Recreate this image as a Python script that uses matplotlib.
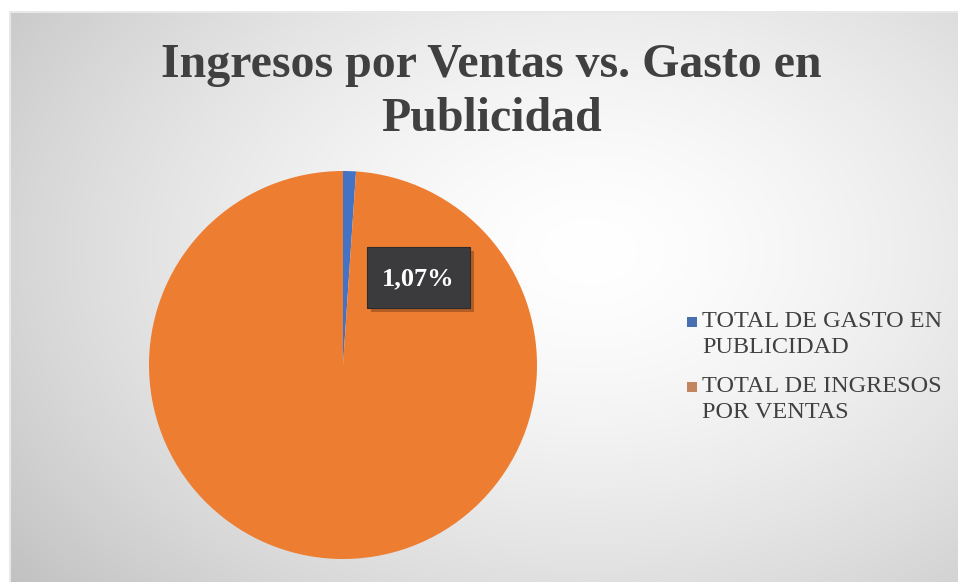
import numpy as np
import matplotlib
matplotlib.use("Agg")
import matplotlib.pyplot as plt
from matplotlib.patches import Patch, Rectangle
from matplotlib.legend_handler import HandlerPatch

labels = ["TOTAL DE GASTO EN\nPUBLICIDAD", "TOTAL DE INGRESOS\nPOR VENTAS"]
values = [1.07, 98.93]
colors = ["#4472C4", "#ED7D31"]
legend_colors = ["#4A6FB0", "#C28560"]
title = "Ingresos por Ventas vs. Gasto en\nPublicidad"
label_text = "1,07%"

W, H = 958, 582
fig = plt.figure(figsize=(W / 100, H / 100), dpi=100)
fig.patch.set_facecolor("white")

# background radial gradient
bg = fig.add_axes([9 / W, 0, 1 - 9 / W, 1 - 11 / H])
bg.set_axis_off()
ny, nx = 571, 949
yy, xx = np.mgrid[0:ny, 0:nx]
cx, cy = 580, 240
r = np.sqrt(((xx - cx) / 660.0) ** 2 + ((yy - cy) / 460.0) ** 2)
v = 1.0 - 0.20 * np.clip(r, 0, 1.2) ** 1.5
img = np.dstack([v, v, v])
bg.imshow(img, aspect="auto", extent=[0, 1, 0, 1], interpolation="bilinear")
bg.set_xlim(0, 1)
bg.set_ylim(0, 1)
bg.plot([0, 1], [0.998, 0.998], color="#e8e8e8", lw=1.5)
bg.plot([0.001, 0.001], [0, 1], color="#e8e8e8", lw=1.5)

# pie
cxp, cyp, rad = 343, 365, 194
ax = fig.add_axes([(cxp - rad) / W, (H - cyp - rad) / H, 2 * rad / W, 2 * rad / H])
ax.set_axis_off()
wedges, _ = ax.pie(values, colors=colors, startangle=90, counterclock=False,
                   wedgeprops=dict(linewidth=0))
ax.set_xlim(-1, 1)
ax.set_ylim(-1, 1)
ax.set_aspect("equal")

# data label box with shadow
bx0, by0, bw, bh = 367, 247, 103, 61
fig.add_artist(Rectangle(((bx0 + 4) / W, 1 - (by0 + bh + 4) / H), bw / W, bh / H,
                         transform=fig.transFigure, facecolor="#000000", alpha=0.25,
                         edgecolor="none"))
fig.add_artist(Rectangle((bx0 / W, 1 - (by0 + bh) / H), bw / W, bh / H,
                         transform=fig.transFigure, facecolor="#3b3b3d",
                         edgecolor="#2c2c2c", lw=0.8))
fig.text((bx0 + bw / 2) / W, 1 - (by0 + bh / 2 + 1) / H, label_text, ha="center", va="center",
         fontsize=19, fontweight="bold", color="white", family="Liberation Serif")

# title
fig.text(491 / W, 1 - 92 / H, title, ha="center", va="center",
         fontsize=34.5, fontweight="bold", color="#404040", family="Liberation Serif",
         linespacing=1.3)


# legend, marker aligned with first text line
def top_square(legend, orig_handle, xdescent, ydescent, width, height, fontsize):
    s = width
    return Rectangle((-xdescent, -ydescent + height - s - 0.08 * fontsize), s, s)


handles = [Patch(facecolor=c, edgecolor="none") for c in legend_colors]
leg = fig.legend(handles, labels, loc="center left", bbox_to_anchor=(665 / W, 1 - 367 / H),
                 frameon=False, prop={"family": "Liberation Serif", "size": 17.5},
                 handlelength=0.42, handleheight=2.1, handletextpad=0.2,
                 labelspacing=0.72, labelcolor="#404040",
                 handler_map={Patch: HandlerPatch(patch_func=top_square)})
for t in leg.get_texts():
    t.set_linespacing(1.35)

fig.savefig("out.png", dpi=100)
